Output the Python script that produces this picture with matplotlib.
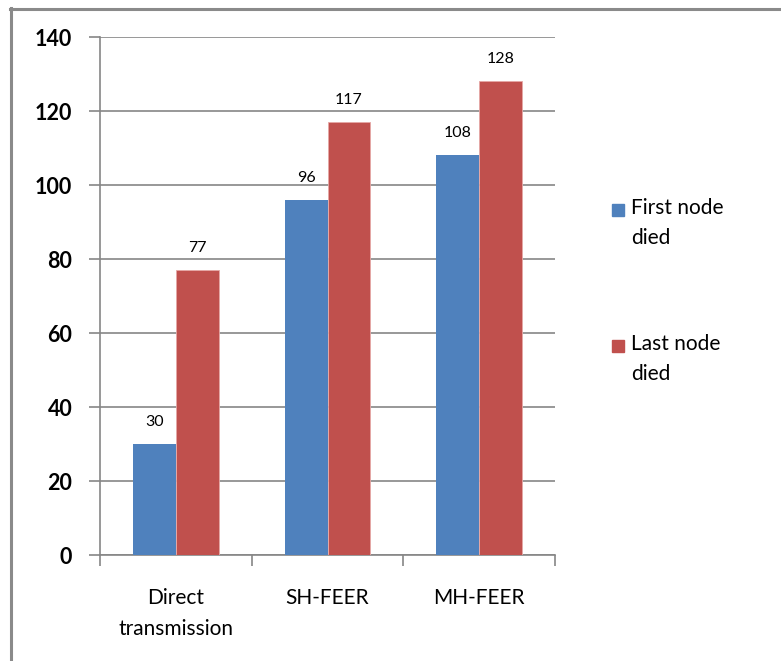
import numpy as np
import matplotlib.pyplot as plt
from matplotlib.patches import Rectangle
from matplotlib.lines import Line2D

categories = ['Direct\ntransmission', 'SH-FEER', 'MH-FEER']
first_node = [30, 96, 108]
last_node = [77, 117, 128]
series_names = ['First node\ndied', 'Last node\ndied']
colors = ['#4F81BD', '#C0504D']

plt.rcParams['font.family'] = ['Lato', 'DejaVu Sans']

fig = plt.figure(figsize=(7.81, 6.61), dpi=100)
ax = fig.add_axes([100 / 781, 106 / 661, 455 / 781, 518 / 661])

x = np.arange(len(categories))
w = 0.283
b1 = ax.bar(x - w / 2, first_node, w, color=colors[0], zorder=3)
b2 = ax.bar(x + w / 2, last_node, w, color=colors[1], edgecolor='#E6A8A6', linewidth=0.6, zorder=3)

for bars, vals in ((b1, first_node), (b2, last_node)):
    for r, v in zip(bars, vals):
        ax.annotate(str(v), (r.get_x() + r.get_width() / 2, v), xytext=(0, 22),
                    textcoords='offset pixels', ha='center', va='center', fontsize=11.5)

ax.set_xlim(-0.5, len(categories) - 0.5)
ax.set_ylim(0, 140)
ax.set_yticks(range(0, 141, 20))
ax.yaxis.grid(True, color='#868686', linewidth=1.2, zorder=0)
ax.set_axisbelow(True)

ax.set_xticks(x)
ax.set_xticklabels(categories, fontsize=15, linespacing=1.65)
ax.set_xticks(np.arange(-0.5, len(categories)), minor=True)
ax.tick_params(axis='x', which='major', length=0, pad=24)
ax.tick_params(axis='x', which='minor', length=8, width=1.2, color='#868686', direction='out')
ax.tick_params(axis='y', length=8, width=1.2, color='#868686', pad=12, labelsize=15.5)
for lab in ax.get_yticklabels():
    lab.set_fontweight('bold')

for s in ['top', 'right']:
    ax.spines[s].set_visible(False)
for s in ['left', 'bottom']:
    ax.spines[s].set_color('#868686')
    ax.spines[s].set_linewidth(1.2)

# legend drawn by hand so the swatch sits beside the first text line
for name, c, ymid in zip(series_names, colors, [210, 346]):
    fig.patches.append(Rectangle((612 / 781, 1 - (ymid + 6) / 661), 12 / 781, 12 / 661,
                                 transform=fig.transFigure, color=c))
    fig.text(631 / 781, 1 - (ymid - 12) / 661, name, fontsize=15, va='top', ha='left',
             linespacing=1.6)

# outer frame
fig.add_artist(Line2D([10 / 781, 1], [1 - 9 / 661] * 2, transform=fig.transFigure,
                      color='#8A8A8A', linewidth=2.2))
fig.add_artist(Line2D([11 / 781] * 2, [0, 1 - 8 / 661], transform=fig.transFigure,
                      color='#8A8A8A', linewidth=2.2))

fig.savefig('out.png', dpi=100, facecolor='white')
